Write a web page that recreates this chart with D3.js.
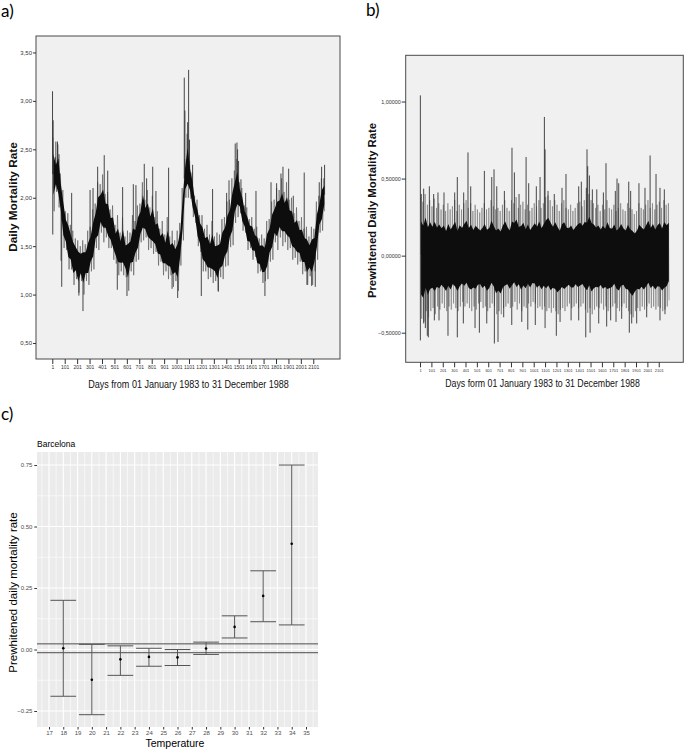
<!DOCTYPE html>
<html><head><meta charset="utf-8">
<script src="https://cdn.jsdelivr.net/npm/d3@7"></script>
<style>body{margin:0;background:#fff}svg{display:block}</style>
</head><body>
<svg id="chart" width="685" height="750"></svg>
<script>
// ---------------- DATA ----------------
// Panel a: daily mortality rate, 20-day blocks (high / low of each block)
const aHigh = [2.62,2.42,2.55,2.25,2.08,1.86,1.84,1.72,1.66,1.58,
 1.56,1.5,1.56,1.52,1.66,1.7,1.88,1.94,2.16,2.14,
 2.24,2.04,2.06,1.88,1.92,1.72,1.82,1.64,1.8,1.6,
 1.66,1.64,1.82,1.76,1.92,1.94,2.16,1.98,2.08,1.9,
 2.02,1.8,1.86,1.68,1.76,1.62,1.8,1.6,1.66,1.56,
 1.66,1.74,2.1,2.4,2.66,2.38,2.26,2.02,1.98,1.82,
 1.82,1.68,1.72,1.62,1.76,1.6,1.64,1.62,1.78,1.8,
 1.96,1.98,2.2,2.28,2.4,2.16,2.1,1.92,1.9,1.78,
 1.8,1.68,1.7,1.58,1.62,1.58,1.76,1.78,1.96,1.98,
 2.1,2.08,2.2,2.06,2.16,1.98,2.0,1.84,1.9,1.76,
 1.8,1.68,1.7,1.6,1.7,1.68,1.96,2.02,2.2,2.2];
const aLow = [1.86,2.06,1.9,1.76,1.48,1.46,1.26,1.26,1.1,1.16,
 1.02,1.14,1.0,1.14,1.1,1.24,1.26,1.48,1.46,1.64,
 1.54,1.59,1.48,1.48,1.36,1.32,1.2,1.24,1.2,1.18,
 1.04,1.24,1.2,1.34,1.36,1.54,1.56,1.59,1.46,1.48,
 1.42,1.44,1.3,1.34,1.2,1.24,1.16,1.2,1.08,1.14,
 1.04,1.3,1.56,2.0,2.0,1.99,1.8,1.74,1.5,1.44,
 1.24,1.24,1.16,1.18,1.12,1.14,1.04,1.18,1.16,1.29,
 1.3,1.49,1.51,1.74,1.8,1.84,1.66,1.64,1.46,1.48,
 1.36,1.39,1.22,1.24,1.12,1.14,1.16,1.34,1.36,1.54,
 1.46,1.59,1.5,1.54,1.46,1.48,1.36,1.38,1.31,1.34,
 1.21,1.24,1.1,1.19,1.1,1.24,1.36,1.64,1.66,1.86];
// Panel a: isolated extreme days [day, rate]
const aSpikes = [[3,3.10],[8,2.80],[5,1.62],[30,2.58],[43,2.58],[55,2.45],[72,1.35],[77,1.08],
 [157,2.05],[215,0.99],[248,0.83],[305,2.08],[329,2.10],[366,2.32],[419,2.44],[447,2.28],
 [524,1.05],[567,2.11],[602,0.985],[653,2.14],[674,2.13],[741,2.35],[760,2.2],[809,2.32],
 [835,2.07],[937,2.31],[965,1.06],[1010,0.965],[1063,3.24],[1068,2.9],[1090,2.78],[1098,3.32],
 [1105,2.6],[1130,2.34],[1200,0.985],[1291,2.09],[1337,1.03],[1404,2.05],[1423,2.18],[1473,2.56],
 [1487,2.57],[1492,2.5],[1500,2.38],[1519,2.19],[1557,2.05],[1640,2.07],[1712,0.985],[1761,2.16],
 [1806,2.15],[1841,2.25],[1857,2.32],[1903,2.30],[1940,2.02],[2028,2.26],[2050,1.1],[2088,1.09],
 [2117,1.08],[2149,2.16],[2168,2.32],[2192,2.34]];
const aYTicks = [0.5,1.0,1.5,2.0,2.5,3.0,3.5];

// Panel b: prewhitened daily mortality rate, 20-day blocks
const bHigh = [0.38,0.35,0.4,0.33,0.36,0.32,0.37,0.31,0.34,0.3,
 0.33,0.29,0.34,0.3,0.32,0.36,0.29,0.33,0.3,0.34,
 0.36,0.31,0.34,0.29,0.33,0.3,0.28,0.31,0.34,0.3,
 0.31,0.36,0.32,0.3,0.31,0.29,0.33,0.36,0.31,0.29,
 0.36,0.34,0.38,0.31,0.33,0.35,0.3,0.33,0.29,0.31,
 0.34,0.32,0.36,0.31,0.34,0.38,0.39,0.36,0.32,0.36,
 0.33,0.29,0.34,0.36,0.31,0.3,0.33,0.29,0.31,0.34,
 0.35,0.32,0.36,0.36,0.4,0.36,0.34,0.31,0.33,0.29,
 0.33,0.3,0.36,0.31,0.3,0.33,0.29,0.31,0.34,0.3,
 0.29,0.34,0.31,0.3,0.27,0.29,0.34,0.31,0.3,0.33,
 0.36,0.31,0.34,0.3,0.33,0.35,0.31,0.36,0.33,0.34];
const bLow = [-0.41,-0.43,-0.36,-0.4,-0.36,-0.34,-0.38,-0.33,-0.35,-0.31,
 -0.34,-0.36,-0.33,-0.35,-0.31,-0.34,-0.36,-0.33,-0.3,-0.33,
 -0.31,-0.34,-0.36,-0.33,-0.35,-0.31,-0.3,-0.34,-0.33,-0.36,
 -0.34,-0.31,-0.33,-0.38,-0.36,-0.38,-0.34,-0.33,-0.31,-0.34,
 -0.33,-0.3,-0.35,-0.31,-0.36,-0.33,-0.34,-0.31,-0.33,-0.3,
 -0.31,-0.34,-0.33,-0.35,-0.33,-0.36,-0.34,-0.37,-0.34,-0.36,
 -0.38,-0.35,-0.34,-0.36,-0.33,-0.31,-0.34,-0.33,-0.31,-0.34,
 -0.33,-0.31,-0.35,-0.37,-0.34,-0.38,-0.35,-0.33,-0.34,-0.31,
 -0.35,-0.33,-0.36,-0.34,-0.33,-0.31,-0.34,-0.36,-0.33,-0.31,
 -0.34,-0.36,-0.38,-0.4,-0.36,-0.34,-0.36,-0.33,-0.35,-0.33,
 -0.31,-0.34,-0.33,-0.35,-0.33,-0.34,-0.36,-0.35,-0.33,-0.29];
const bSpikes = [[4,1.04],[12,0.40],[33,0.435],[83,0.45],[121,0.40],[159,0.41],[212,0.41],[306,0.41],
 [329,0.51],[385,0.41],[423,0.67],[447,0.45],[567,0.55],[632,0.51],[652,0.56],[676,0.45],[743,0.42],
 [810,0.70],[831,0.54],[872,0.40],[934,0.64],[957,0.47],[1024,0.45],[1057,0.51],[1095,0.90],
 [1101,0.69],[1127,0.42],[1182,0.40],[1250,0.44],[1285,0.53],[1397,0.45],[1420,0.48],[1464,0.44],
 [1470,0.69],[1476,0.58],[1491,0.52],[1517,0.43],[1556,0.43],[1614,0.41],[1637,0.60],[1719,0.42],
 [1734,0.50],[1749,0.47],[1837,0.48],[1854,0.42],[1927,0.47],[1980,0.44],[2025,0.65],[2077,0.53],
 [2112,0.44],[2150,0.43],
 [4,-0.55],[33,-0.44],[48,-0.47],[65,-0.52],[74,-0.53],[127,-0.42],[168,-0.42],[247,-0.52],
 [329,-0.53],[382,-0.44],[485,-0.47],[523,-0.50],[588,-0.44],[655,-0.57],[687,-0.56],[737,-0.40],
 [808,-0.45],[896,-0.43],[949,-0.48],[1015,-0.45],[1101,-0.47],[1200,-0.52],[1233,-0.43],[1330,-0.42],
 [1397,-0.42],[1459,-0.53],[1497,-0.50],[1573,-0.44],[1643,-0.46],[1678,-0.42],[1725,-0.43],[1775,-0.41],
 [1842,-0.50],[1863,-0.44],[1907,-0.44],[1995,-0.40],[2112,-0.42],[2156,-0.38]];
const bYTicks = [-0.5,0.0,0.5,1.0];
const dayTicks = [1,101,201,301,401,501,601,701,801,901,1001,1101,1201,1301,1401,1501,1601,1701,1801,1901,2001,2101];

// Panel c: Barcelona, estimates with confidence intervals by temperature
const cTemps = [18,20,22,24,26,28,30,32,34];
const cEstimate = [0.005,-0.123,-0.04,-0.03,-0.032,0.004,0.092,0.218,0.43];
const cLower = [-0.19,-0.265,-0.105,-0.068,-0.065,-0.02,0.047,0.113,0.10];
const cUpper = [0.20,0.021,0.015,0.005,0.0,0.03,0.137,0.32,0.75];
const cRefLines = [0.023,-0.013];
const cXTicks = [17,18,19,20,21,22,23,24,25,26,27,28,29,30,31,32,33,34,35];
const cYTicks = [-0.25,0.00,0.25,0.50,0.75];

// ---------------- DRAW ----------------
const svg = d3.select("#chart");
const comma = (d, n) => d3.format("." + n + "f")(d).replace(".", ",");
const NARROW = "'Liberation Sans Narrow','Arial Narrow','Liberation Sans',Arial,sans-serif";
const SANS = "'Liberation Sans',Arial,sans-serif";

// panel letters
const LETTER = "Lato,'Open Sans',sans-serif";
svg.append("text").attr("x", 1).attr("y", 17).text("a)").attr("font-family", LETTER).attr("font-size", 17);
svg.append("text").attr("x", 366).attr("y", 16).text("b)").attr("font-family", LETTER).attr("font-size", 17);
svg.append("text").attr("x", 1).attr("y", 420).text("c)").attr("font-family", LETTER).attr("font-size", 17);

const defs = svg.append("defs");

// condensed text: scale horizontally to a target width
function condensed(g, cx, cy, size, width, txt) {
  const t = g.append("text").attr("text-anchor", "middle").attr("font-family", NARROW)
    .attr("font-size", size).attr("fill", "#111").text(txt);
  const w = t.node().getComputedTextLength() || width;
  t.attr("transform", `translate(${cx},${cy}) scale(${Math.min(1, width / w)},1)`);
  return t;
}

function spssPanel(o) {
  const g = svg.append("g");
  const x = d3.scaleLinear().domain(o.xDomain).range([o.left, o.right]);
  const y = d3.scaleLinear().domain(o.yDomain).range([o.bottom, o.top]);
  g.append("rect").attr("x", o.left).attr("y", o.top).attr("width", o.right - o.left).attr("height", o.bottom - o.top)
    .attr("fill", "#f0f0f0").attr("stroke", "#4a4a4a").attr("stroke-width", 1);
  defs.append("clipPath").attr("id", o.id).append("rect")
    .attr("x", o.left).attr("y", o.top).attr("width", o.right - o.left).attr("height", o.bottom - o.top);
  const pg = g.append("g").attr("clip-path", `url(#${o.id})`);
  // block records
  const blocks = o.high.map((h, k) => ({
    d0: Math.min(k * 20 + 6, 2192), d1: Math.min(k * 20 + 16, 2192), mid: Math.min(k * 20 + 10, 2192),
    hi: h, lo: o.low[k]
  }));
  // zig-zag line through block highs and lows (grey fringe)
  const pts = [];
  blocks.forEach(b => { pts.push({day: b.d0, v: b.hi}); pts.push({day: b.d1, v: b.lo}); });
  pg.append("path").datum(pts)
    .attr("d", d3.line().x(d => x(d.day)).y(d => y(d.v)))
    .attr("fill", "none").attr("stroke", o.fringe).attr("stroke-width", 0.6);
  // isolated spikes
  pg.selectAll(".spike").data(o.spikes).join("line")
    .attr("x1", s => x(s[0])).attr("x2", s => x(s[0]))
    .attr("y1", s => {
      const b = blocks[Math.min(Math.floor((s[0] - 1) / 20), blocks.length - 1)];
      return y(o.spikeBase !== undefined ? o.spikeBase : (b.hi + b.lo) / 2);
    })
    .attr("y2", s => y(s[1]))
    .attr("stroke", "#333").attr("stroke-width", 0.9);
  // dense black core of the band
  pg.append("path").datum(blocks)
    .attr("d", d3.area().x(b => x(b.mid))
      .y0(b => y(b.lo + (b.hi - b.lo) * o.inset))
      .y1(b => y(b.hi - (b.hi - b.lo) * o.inset)))
    .attr("fill", "#0d0d0d");
  // y axis
  const ya = g.append("g").attr("transform", `translate(${o.left},0)`)
    .call(d3.axisLeft(y).tickValues(o.yTicks).tickSize(o.yTickLen).tickPadding(1).tickFormat(d => comma(d, o.dec)));
  ya.select(".domain").remove();
  ya.selectAll("line").attr("stroke", "#333");
  ya.selectAll("text").attr("font-family", SANS).attr("font-size", o.yFont).attr("fill", "#333");
  // x axis
  const xa = g.append("g").attr("transform", `translate(0,${o.bottom})`)
    .call(d3.axisBottom(x).tickValues(dayTicks).tickSize(5).tickPadding(1.5).tickFormat(d3.format("d")));
  xa.select(".domain").remove();
  xa.selectAll("line").attr("stroke", "#333");
  xa.selectAll("text").attr("font-family", NARROW).attr("font-size", o.xFont).attr("fill", "#333");
  // titles
  condensed(g, o.xTitleX, o.xTitleY, 11, o.xTitleLen, o.xTitle);
  g.append("text").attr("transform", `translate(${o.yTitleX},${o.yTitleY}) rotate(-90)`).attr("text-anchor", "middle")
    .attr("font-family", SANS).attr("font-weight", "bold").attr("font-size", o.yTitleSize).attr("fill", "#111")
    .text(o.yTitle);
}

spssPanel({id: "clipA", left: 36, right: 340, top: 36, bottom: 359,
  xDomain: [-130, 2316], yDomain: [0.335, 3.67], high: aHigh, low: aLow, spikes: aSpikes, inset: 0.22, fringe: "#555",
  yTicks: aYTicks, dec: 2, yTickLen: 3, yFont: 6, xFont: 5,
  xTitle: "Days from 01 January 1983 to 31 December 1988", xTitleX: 188.5, xTitleY: 388, xTitleLen: 201,
  yTitle: "Daily Mortality Rate", yTitleX: 17, yTitleY: 197, yTitleSize: 11.8});

spssPanel({id: "clipB", left: 405.7, right: 683.3, top: 55.3, bottom: 362.3,
  xDomain: [-125, 2317], yDomain: [-0.692, 1.30], high: bHigh, low: bLow, spikes: bSpikes, spikeBase: 0, inset: 0.2, fringe: "#777",
  yTicks: bYTicks, dec: 5, yTickLen: 4, yFont: 5.4, xFont: 4,
  xTitle: "Days form 01 January 1983 to 31 December 1988", xTitleX: 542.5, xTitleY: 387, xTitleLen: 195,
  yTitle: "Prewhitened Daily Mortality Rate", yTitleX: 376, yTitleY: 210.5, yTitleSize: 11.3});

// ---------------- Panel c (ggplot style) ----------------
{
  const L = 37, R = 318, T = 452, B = 727;
  const x = d3.scaleLinear().domain([16.16, 35.84]).range([L, R]);
  const y = d3.scaleLinear().domain([-0.315, 0.803]).range([B, T]);
  const g = svg.append("g");
  g.append("rect").attr("x", L).attr("y", T).attr("width", R - L).attr("height", B - T).attr("fill", "#ebebeb");
  // minor grid
  const xMinor = cXTicks.map(t => t - 0.5).concat([cXTicks[cXTicks.length - 1] + 0.5]);
  const yMinor = cYTicks.slice(0, -1).map((t, i) => (t + cYTicks[i + 1]) / 2);
  g.selectAll(".xm").data(xMinor).join("line").attr("x1", d => x(d)).attr("x2", d => x(d)).attr("y1", T).attr("y2", B)
    .attr("stroke", "#fff").attr("stroke-width", 0.6);
  g.selectAll(".ym").data(yMinor).join("line").attr("x1", L).attr("x2", R).attr("y1", d => y(d)).attr("y2", d => y(d))
    .attr("stroke", "#fff").attr("stroke-width", 0.6);
  g.selectAll(".xM").data(cXTicks).join("line").attr("x1", d => x(d)).attr("x2", d => x(d)).attr("y1", T).attr("y2", B)
    .attr("stroke", "#fff").attr("stroke-width", 1.1);
  g.selectAll(".yM").data(cYTicks).join("line").attr("x1", L).attr("x2", R).attr("y1", d => y(d)).attr("y2", d => y(d))
    .attr("stroke", "#fff").attr("stroke-width", 1.1);
  // reference lines
  g.selectAll(".ref").data(cRefLines).join("line").attr("x1", L).attr("x2", R).attr("y1", d => y(d)).attr("y2", d => y(d))
    .attr("stroke", "#4d4d4d").attr("stroke-width", 1);
  // error bars
  const eb = g.selectAll(".eb").data(cTemps).join("g");
  eb.append("line").attr("x1", d => x(d)).attr("x2", d => x(d)).attr("y1", (d, i) => y(cLower[i])).attr("y2", (d, i) => y(cUpper[i]))
    .attr("stroke", "#555").attr("stroke-width", 1);
  eb.append("line").attr("x1", d => x(d - 0.9)).attr("x2", d => x(d + 0.9)).attr("y1", (d, i) => y(cUpper[i])).attr("y2", (d, i) => y(cUpper[i]))
    .attr("stroke", "#555").attr("stroke-width", 1);
  eb.append("line").attr("x1", d => x(d - 0.9)).attr("x2", d => x(d + 0.9)).attr("y1", (d, i) => y(cLower[i])).attr("y2", (d, i) => y(cLower[i]))
    .attr("stroke", "#555").attr("stroke-width", 1);
  eb.append("circle").attr("cx", d => x(d)).attr("cy", (d, i) => y(cEstimate[i])).attr("r", 1.3).attr("fill", "#000");
  // axes
  const xa = g.append("g").attr("transform", `translate(0,${B})`)
    .call(d3.axisBottom(x).tickValues(cXTicks).tickSize(2.5).tickPadding(1.5).tickFormat(d3.format("d")));
  xa.select(".domain").remove();
  xa.selectAll("line").attr("stroke", "#333");
  xa.selectAll("text").attr("font-family", SANS).attr("font-size", 6).attr("fill", "#4d4d4d");
  const ya = g.append("g").attr("transform", `translate(${L},0)`)
    .call(d3.axisLeft(y).tickValues(cYTicks).tickSize(2.7).tickPadding(2).tickFormat(d3.format(".2f")));
  ya.select(".domain").remove();
  ya.selectAll("line").attr("stroke", "#333");
  ya.selectAll("text").attr("font-family", SANS).attr("font-size", 6).attr("fill", "#4d4d4d");
  g.append("text").attr("x", L).attr("y", 447).attr("font-family", SANS).attr("font-size", 8.5).text("Barcelona");
  g.append("text").attr("x", 175).attr("y", 747).attr("text-anchor", "middle").attr("font-family", SANS)
    .attr("font-size", 10.5).text("Temperature");
  g.append("text").attr("transform", `translate(17,${(T + B) / 2 + 3}) rotate(-90)`).attr("text-anchor", "middle")
    .attr("font-family", SANS).attr("font-size", 11.5).text("Prewhitened daily mortality rate");
}
</script>
</body></html>
